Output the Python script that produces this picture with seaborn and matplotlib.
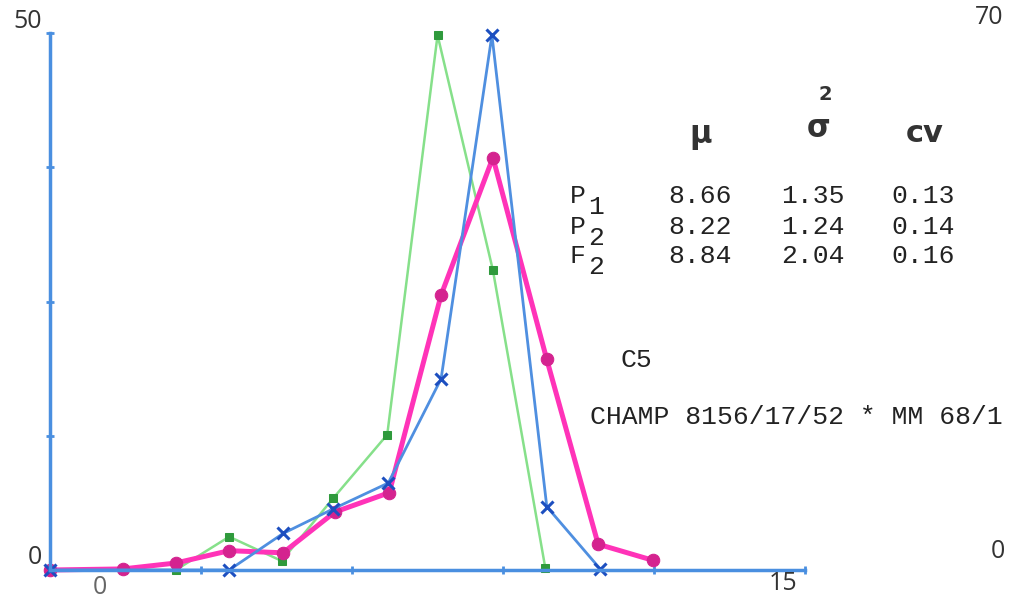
import matplotlib
matplotlib.use("Agg")
import matplotlib.pyplot as plt
import seaborn as sns

# class positions (0..15)
x_f2 = [0, 1.45, 2.5, 3.56, 4.63, 5.66, 6.74, 7.77, 8.8, 9.87, 10.89, 11.98]
x_p2 = [0, 1.45, 2.5, 3.56, 4.6, 5.63, 6.7, 7.7, 8.8, 9.84]
x_p1 = [0, 3.56, 4.63, 5.63, 6.72, 7.77, 8.78, 9.87, 10.93]

# frequencies (left scale 0..50)
f2 = [0, 0.1, 0.65, 1.8, 1.6, 5.4, 7.2, 25.6, 38.4, 19.6, 2.4, 0.9]
p2 = [0, 0, 0, 3.1, 0.85, 6.7, 12.6, 49.8, 27.9, 0.2]
p1 = [0, 0, 3.4, 5.7, 8.1, 17.8, 49.8, 5.9, 0.1]

stat_rows = ["P", "P", "F"]
stat_subs = ["1", "2", "2"]
mu = ["8.66", "8.22", "8.84"]
var = ["1.35", "1.24", "2.04"]
cv = ["0.13", "0.14", "0.16"]

sns.set_style("white")
W, H = 1011, 605
fig = plt.figure(figsize=(W / 100, H / 100), dpi=100)
ax = fig.add_axes([50 / W, 35 / H, 755 / W, 537 / H])

def px(x, y):
    return x / W, 1 - y / H

sns.lineplot(x=x_p2, y=p2, ax=ax, sort=False, color="#86e08a", lw=1.8,
             marker="s", ms=6, mfc="#2f9a3c", mec="#2f9a3c", clip_on=False)
sns.lineplot(x=x_f2, y=f2, ax=ax, sort=False, color="#ff33b8", lw=3.6,
             marker="o", ms=9, mfc="#d4238f", mec="#d4238f", clip_on=False)
sns.lineplot(x=x_p1, y=p1, ax=ax, sort=False, color="#4f8fe0", lw=2,
             marker="x", ms=8, mew=2.2, mec="#1d4fc0", clip_on=False)

ax.set_xlim(0, 15)
ax.set_ylim(0, 50)
ax.set_xticks([0, 3, 6, 9, 12, 15])
ax.set_yticks([0, 12.5, 25, 37.5, 50])
ax.set_xticklabels([])
ax.set_yticklabels([])
ax.tick_params(direction="inout", length=6, width=2, color="#4a8fe0",
               bottom=True, left=True)
for side in ["top", "right"]:
    ax.spines[side].set_visible(False)
for side in ["left", "bottom"]:
    ax.spines[side].set_color("#4a8fe0")
    ax.spines[side].set_linewidth(2.5)
ax.set_facecolor("none")

# axis labels as written on the sheet
lab = dict(fontsize=18, color="#333333", family="Open Sans", va="center", ha="center")
fig.text(*px(28, 22), "50", **lab)
fig.text(*px(35, 557), "0", **lab)
fig.text(*px(100, 588), "0", color="#666666", fontsize=18, family="Open Sans", va="center", ha="center")
fig.text(*px(783, 584), "15", **lab)
fig.text(*px(989, 18), "70", **lab)
fig.text(*px(998, 551), "0", **lab)

# statistics table
mono = dict(fontsize=19, family="Liberation Mono", color="#222222", va="center", ha="left")
hdr = dict(fontsize=22, fontweight="bold", color="#333333", va="center", ha="center")
fig.text(*px(701, 136), "μ", **hdr)
fig.text(*px(819, 128), "σ", **hdr)
fig.text(*px(825, 95), "2", fontsize=14, fontweight="bold", color="#333333", va="center", ha="center")
fig.text(*px(925, 134), "cv", **hdr)

row_y = [196, 227, 256]
for i, y in enumerate(row_y):
    fig.text(*px(570, y), stat_rows[i], **mono)
    fig.text(*px(588, y + 11), stat_subs[i], **mono)
    fig.text(*px(668, y), mu[i], **mono)
    fig.text(*px(781, y), var[i], **mono)
    fig.text(*px(891, y), cv[i], **mono)

fig.text(*px(621, 360), "C5", **mono)
fig.text(*px(590, 417), "CHAMP 8156/17/52 * MM 68/1", **mono)

fig.savefig("out.png", dpi=100)
